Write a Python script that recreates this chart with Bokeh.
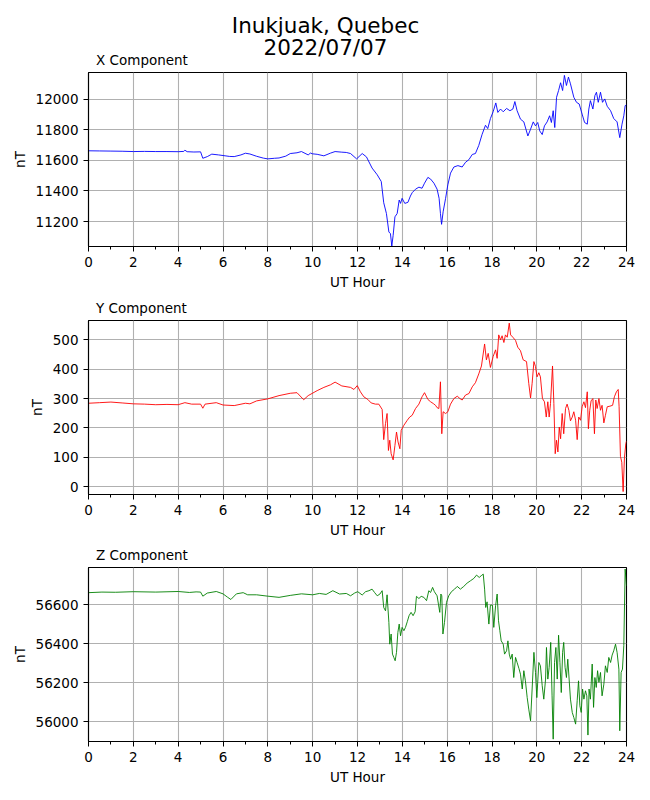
from bokeh.plotting import figure
from bokeh.models import FixedTicker, Range1d, BasicTickFormatter
from bokeh.core.properties import value
from bokeh.layouts import column
from bokeh.embed import file_html
from bokeh.resources import INLINE

station_title = "Inukjuak, Quebec"
date_title = "2022/07/07"
subtitles = ["X Component", "Y Component", "Z Component"]
hour_ticks = [0, 2, 4, 6, 8, 10, 12, 14, 16, 18, 20, 22, 24]
hour_minor_ticks = [1, 3, 5, 7, 9, 11, 13, 15, 17, 19, 21, 23]

x_hours = [0.0, 0.5, 1.0, 1.5, 2.0, 2.5, 3.0, 3.5, 4.0, 4.25, 4.3, 4.4, 4.7, 5.0, 5.1, 5.3, 5.5, 5.8,
           6.0, 6.3, 6.5, 6.8, 7.0, 7.2, 7.5, 7.8, 8.0, 8.3, 8.5, 8.8, 9.0, 9.3, 9.5, 9.8, 9.9, 10.0,
           10.2, 10.5, 10.8, 11.0, 11.3, 11.5, 11.69, 11.96, 12.21, 12.4, 12.65, 12.88, 13.06, 13.17,
           13.29, 13.4, 13.47, 13.53, 13.59, 13.67, 13.77, 13.86, 13.92, 13.99, 14.11, 14.25, 14.36,
           14.44, 14.59, 14.74, 14.88, 14.99, 15.14, 15.26, 15.41, 15.55, 15.64, 15.7, 15.75, 15.82,
           15.93, 16.03, 16.15, 16.3, 16.48, 16.67, 16.82, 16.97, 17.12, 17.26, 17.41, 17.56, 17.71,
           17.81, 17.93, 18.05, 18.17, 18.26, 18.38, 18.5, 18.65, 18.8, 18.93, 19.02, 19.12, 19.27,
           19.42, 19.6, 19.72, 19.84, 19.94, 20.04, 20.13, 20.24, 20.34, 20.46, 20.57, 20.65, 20.73,
           20.8, 20.88, 20.97, 21.06, 21.15, 21.23, 21.32, 21.41, 21.5, 21.65, 21.77, 21.89, 22.02,
           22.13, 22.25, 22.32, 22.39, 22.5, 22.59, 22.66, 22.74, 22.84, 22.93, 23.03, 23.14, 23.29,
           23.43, 23.58, 23.7, 23.8, 23.88, 23.94, 24.0]
x_nT = [11663, 11662, 11661, 11660, 11658, 11659, 11658, 11658, 11657, 11659, 11667, 11657, 11655,
        11656, 11614, 11625, 11641, 11636, 11632, 11626, 11625, 11636, 11647, 11642, 11627, 11615,
        11610, 11614, 11616, 11628, 11645, 11650, 11658, 11636, 11648, 11643, 11640, 11630, 11648,
        11658, 11654, 11652, 11645, 11610, 11645, 11623, 11550, 11506, 11462, 11323, 11253, 11132,
        11121, 11040, 11110, 11231, 11253, 11341, 11319, 11352, 11319, 11326, 11367, 11389, 11412,
        11425, 11418, 11451, 11489, 11478, 11451, 11412, 11352, 11253, 11182, 11264, 11352, 11440,
        11517, 11557, 11566, 11557, 11588, 11605, 11639, 11645, 11698, 11771, 11830, 11808, 11874,
        11918, 11976, 11914, 11936, 11918, 11940, 11925, 11936, 11985, 11925, 11870, 11852, 11760,
        11804, 11852, 11826, 11848, 11793, 11769, 11826, 11852, 11892, 11848, 11925, 11815, 12013,
        12057, 12108, 12057, 12156, 12090, 12145, 12101, 12013, 11980, 11969, 11903, 11848, 11837,
        11936, 11991, 11936, 12024, 12046, 11980, 12046, 11980, 12002, 11954, 11925, 11874, 11852,
        11749, 11837, 11892, 11958, 11963]

y_hours = [0.0, 0.5, 1.0, 1.5, 2.0, 2.5, 3.0, 3.5, 4.0, 4.3, 4.6, 5.0, 5.1, 5.2, 5.7, 6.0, 6.5, 7.0,
           7.2, 7.5, 8.0, 8.5, 9.0, 9.3, 9.6, 9.8, 10.2, 10.5, 10.8, 11.0, 11.3, 11.69, 11.84, 11.99,
           12.13, 12.28, 12.46, 12.61, 12.8, 12.95, 13.1, 13.17, 13.25, 13.32, 13.38, 13.44, 13.5,
           13.59, 13.67, 13.74, 13.81, 13.89, 13.95, 14.07, 14.22, 14.33, 14.44, 14.59, 14.74, 14.88,
           14.99, 15.14, 15.26, 15.38, 15.48, 15.55, 15.63, 15.7, 15.76, 15.82, 15.93, 16.03, 16.15,
           16.3, 16.45, 16.57, 16.67, 16.82, 16.97, 17.12, 17.26, 17.41, 17.53, 17.67, 17.75, 17.83,
           17.93, 18.05, 18.16, 18.23, 18.3, 18.38, 18.45, 18.53, 18.6, 18.68, 18.77, 18.83, 18.93,
           19.05, 19.15, 19.27, 19.39, 19.54, 19.64, 19.72, 19.79, 19.87, 19.94, 20.01, 20.09, 20.16,
           20.25, 20.34, 20.42, 20.49, 20.55, 20.61, 20.7, 20.76, 20.82, 20.88, 20.94, 21.0, 21.06,
           21.13, 21.2, 21.28, 21.35, 21.43, 21.5, 21.58, 21.65, 21.73, 21.8, 21.87, 21.95, 22.02,
           22.1, 22.17, 22.25, 22.3, 22.36, 22.42, 22.5, 22.57, 22.63, 22.69, 22.77, 22.84, 22.91,
           22.99, 23.06, 23.14, 23.26, 23.38, 23.46, 23.55, 23.63, 23.67, 23.73, 23.79, 23.85, 23.91,
           23.97, 24.0]
y_nT = [284, 286, 288, 285, 282, 281, 279, 280, 279, 286, 281, 281, 267, 281, 286, 278, 276, 284,
        282, 292, 299, 310, 318, 320, 296, 310, 327, 338, 347, 356, 343, 338, 331, 344,
        323, 306, 297, 285, 281, 281, 263, 160, 215, 249, 123, 158, 112,
        91, 140, 186, 152, 129, 192, 209, 226, 237, 243, 266, 281, 306,
        320, 297, 289, 283, 277, 269, 266, 357, 180, 255, 249, 255, 281,
        300, 308, 300, 295, 312, 317, 340, 354, 384, 411, 486, 432, 454,
        406, 443, 466, 437, 517, 500, 514, 491, 517, 509, 557, 517, 509,
        498, 475, 463, 432, 426, 352, 302, 352, 426, 409, 374, 388, 374,
        300, 289, 237, 289, 237, 283, 411, 283, 112, 158, 118, 203, 163,
        249, 180, 266, 281, 260, 224, 237, 255, 226, 160, 237, 226, 272,
        289, 269, 323, 197, 260, 292, 300, 180, 295, 266, 300, 260, 277,
        217, 243, 272, 274, 277, 306, 323, 331, 272, 103, 83, -17, 100,
        146, 155]

z_hours = [0.0, 0.6, 1.2, 2.0, 3.0, 4.0, 4.5, 4.8, 5.0, 5.1, 5.3, 5.7, 6.0, 6.2, 6.35, 6.6, 6.9, 7.1,
           7.5, 8.0, 8.5, 9.0, 9.5, 10.0, 10.3, 10.6, 10.9, 11.2, 11.5, 11.69, 11.87,
           12.01, 12.21, 12.36, 12.51, 12.65, 12.76, 12.88, 13.0, 13.1, 13.17, 13.25, 13.32, 13.4,
           13.44, 13.5, 13.56, 13.62, 13.68, 13.74, 13.8, 13.86, 13.92, 13.99, 14.07, 14.14, 14.22,
           14.3, 14.39, 14.48, 14.57, 14.63, 14.74, 14.84, 14.96, 15.08, 15.18, 15.26, 15.35, 15.43,
           15.55, 15.61, 15.67, 15.72, 15.76, 15.81, 15.88, 15.97, 16.07, 16.19, 16.33, 16.45, 16.59,
           16.74, 16.89, 17.04, 17.19, 17.31, 17.43, 17.52, 17.61, 17.67, 17.72, 17.78, 17.86, 17.93,
           18.02, 18.08, 18.16, 18.23, 18.29, 18.35, 18.41, 18.5, 18.56, 18.65, 18.71, 18.77, 18.83,
           18.9, 18.97, 19.05, 19.12, 19.2, 19.27, 19.35, 19.42, 19.49, 19.57, 19.64, 19.72, 19.79,
           19.87, 19.94, 20.0, 20.09, 20.16, 20.24, 20.31, 20.39, 20.43, 20.49, 20.55, 20.62, 20.68,
           20.73, 20.79, 20.85, 20.91, 20.97, 21.03, 21.09, 21.15, 21.2, 21.26, 21.32, 21.38, 21.44,
           21.5, 21.58, 21.65, 21.73, 21.8, 21.86, 21.92, 21.98, 22.04, 22.1, 22.17, 22.23, 22.28,
           22.33, 22.39, 22.47, 22.53, 22.59, 22.65, 22.71, 22.77, 22.84, 22.91, 22.99, 23.06, 23.14,
           23.21, 23.29, 23.36, 23.43, 23.51, 23.58, 23.66, 23.7, 23.76, 23.82, 23.88, 23.94, 24.0]
z_nT = [56662, 56665, 56664, 56667, 56665, 56668, 56663, 56666, 56665, 56644, 56660, 56668, 56656,
        56639, 56627, 56656, 56662, 56651, 56651, 56644, 56638, 56648, 56656, 56651, 56658, 56653,
        56672, 56655, 56658, 56646, 56660,
        56667, 56650, 56667, 56672, 56680, 56663, 56646, 56655, 56672, 56586, 56569, 56651, 56509,
        56398, 56450, 56347, 56330, 56313, 56356, 56458, 56501, 56441, 56484, 56467, 56484, 56513,
        56544, 56561, 56544, 56564, 56643, 56632, 56643, 56638, 56621, 56672, 56663, 56689, 56667,
        56646, 56603, 56561, 56655, 56646, 56450, 56509, 56612, 56646, 56667, 56680, 56694, 56680,
        56694, 56711, 56723, 56735, 56752, 56740, 56749, 56757, 56680, 56586, 56615, 56501, 56598,
        56598, 56484, 56595, 56655, 56518, 56467, 56415, 56398, 56347, 56364, 56415, 56347, 56321,
        56347, 56227, 56330, 56304, 56274, 56244, 56168, 56262, 56210, 56124, 56065, 56005, 56168,
        56356, 56253, 56124, 56304, 56287, 56185, 56116, 56219, 56381, 56219, 56279, 56407, 56133,
        55911, 56304, 56381, 56219, 56444, 56304, 56150, 56356, 56407, 56279, 56227, 56321, 56219,
        56116, 56048, 56022, 55988, 56108, 56210, 56082, 56048, 56168, 56116, 56159, 56133, 55932,
        56168, 56116, 56296, 56074, 56227, 56176, 56262, 56202, 56253, 56133, 56193, 56287, 56253,
        56330, 56304, 56342, 56364, 56398, 56356, 56270, 55954, 56253, 56270, 56390, 56783, 56697]

FONT = "DejaVu Sans"
SMALL = "13.5px"
BIG = "21.5px"
FRAME_H = 174
FRAME_W = 538
LEFT = 88
RIGHT = 16


def text_band(height):
    """A strip without axes whose data space is page pixels, for the titles between panels."""
    s = figure(frame_width=FRAME_W, frame_height=height,
               x_range=Range1d(LEFT, LEFT + FRAME_W), y_range=Range1d(height, 0),
               x_axis_type=None, y_axis_type=None, min_border_left=LEFT,
               min_border_right=RIGHT, min_border_top=0, min_border_bottom=0,
               output_backend="svg", toolbar_location=None, outline_line_color=None,
               background_fill_color="white", border_fill_color="white")
    s.grid.visible = False
    return s


def add_text(s, x, y, txt, size, align):
    s.text(x=[x], y=[y], text=[txt], text_font=value(FONT), text_font_size=value(size),
           text_align=value(align), text_baseline=value("alphabetic"), text_color="black")


def panel(hours, vals, color, yr, yticks, bottom):
    p = figure(frame_width=FRAME_W, frame_height=FRAME_H, x_range=Range1d(0, 24),
               y_range=Range1d(*yr), output_backend="svg", toolbar_location=None,
               min_border_left=LEFT, min_border_right=RIGHT, min_border_top=2,
               min_border_bottom=bottom, background_fill_color="white",
               border_fill_color="white")
    p.line(hours, vals, line_color=color, line_width=0.9)
    p.xaxis.ticker = FixedTicker(ticks=hour_ticks, minor_ticks=hour_minor_ticks)
    p.yaxis.ticker = FixedTicker(ticks=yticks)
    p.yaxis.formatter = BasicTickFormatter(use_scientific=False)
    for ax in (p.xaxis[0], p.yaxis[0]):
        ax.major_tick_out = 5
        ax.major_tick_in = 0
        ax.minor_tick_out = 3
        ax.minor_tick_in = 0
        ax.major_label_standoff = 5
        ax.major_label_text_font = FONT
        ax.major_label_text_font_size = SMALL
        ax.major_label_text_color = "black"
        ax.axis_label_text_font = FONT
        ax.axis_label_text_font_size = SMALL
        ax.axis_label_text_font_style = "normal"
        ax.axis_label_text_color = "black"
        ax.axis_line_color = "black"
        ax.axis_line_width = 1.1
        ax.major_tick_line_color = "black"
        ax.minor_tick_line_color = "black"
    p.yaxis.minor_tick_line_color = None
    p.xaxis.axis_label = "UT Hour"
    p.xaxis.axis_label_standoff = 4
    p.yaxis.axis_label = "nT"
    p.yaxis.axis_label_standoff = 5
    p.grid.grid_line_color = "#b0b0b0"
    p.grid.grid_line_width = 1.1
    p.outline_line_color = "black"
    p.outline_line_width = 1.1
    p.outline_line_alpha = 1.0
    return p


head = text_band(70)
add_text(head, 325, 24.8, station_title, BIG, "center")
add_text(head, 325, 46.8, date_title, BIG, "center")
add_text(head, 95.5, 59.6, subtitles[0], SMALL, "left")

p1 = panel(x_hours, x_nT, "blue", (11037, 12175), [11200, 11400, 11600, 11800, 12000], 46)

band2 = text_band(26)
add_text(band2, 95.5, 15.0, subtitles[1], SMALL, "left")

p2 = panel(y_hours, y_nT, "red", (-27, 566), [0, 100, 200, 300, 400, 500], 46)

band3 = text_band(25)
add_text(band3, 95.5, 14.3, subtitles[2], SMALL, "left")

p3 = panel(z_hours, z_nT, "green", (55899, 56791), [56000, 56200, 56400, 56600], 51)

layout = column(head, p1, band2, p2, band3, p3, spacing=0)
open("out.html", "w").write(file_html(layout, INLINE))
